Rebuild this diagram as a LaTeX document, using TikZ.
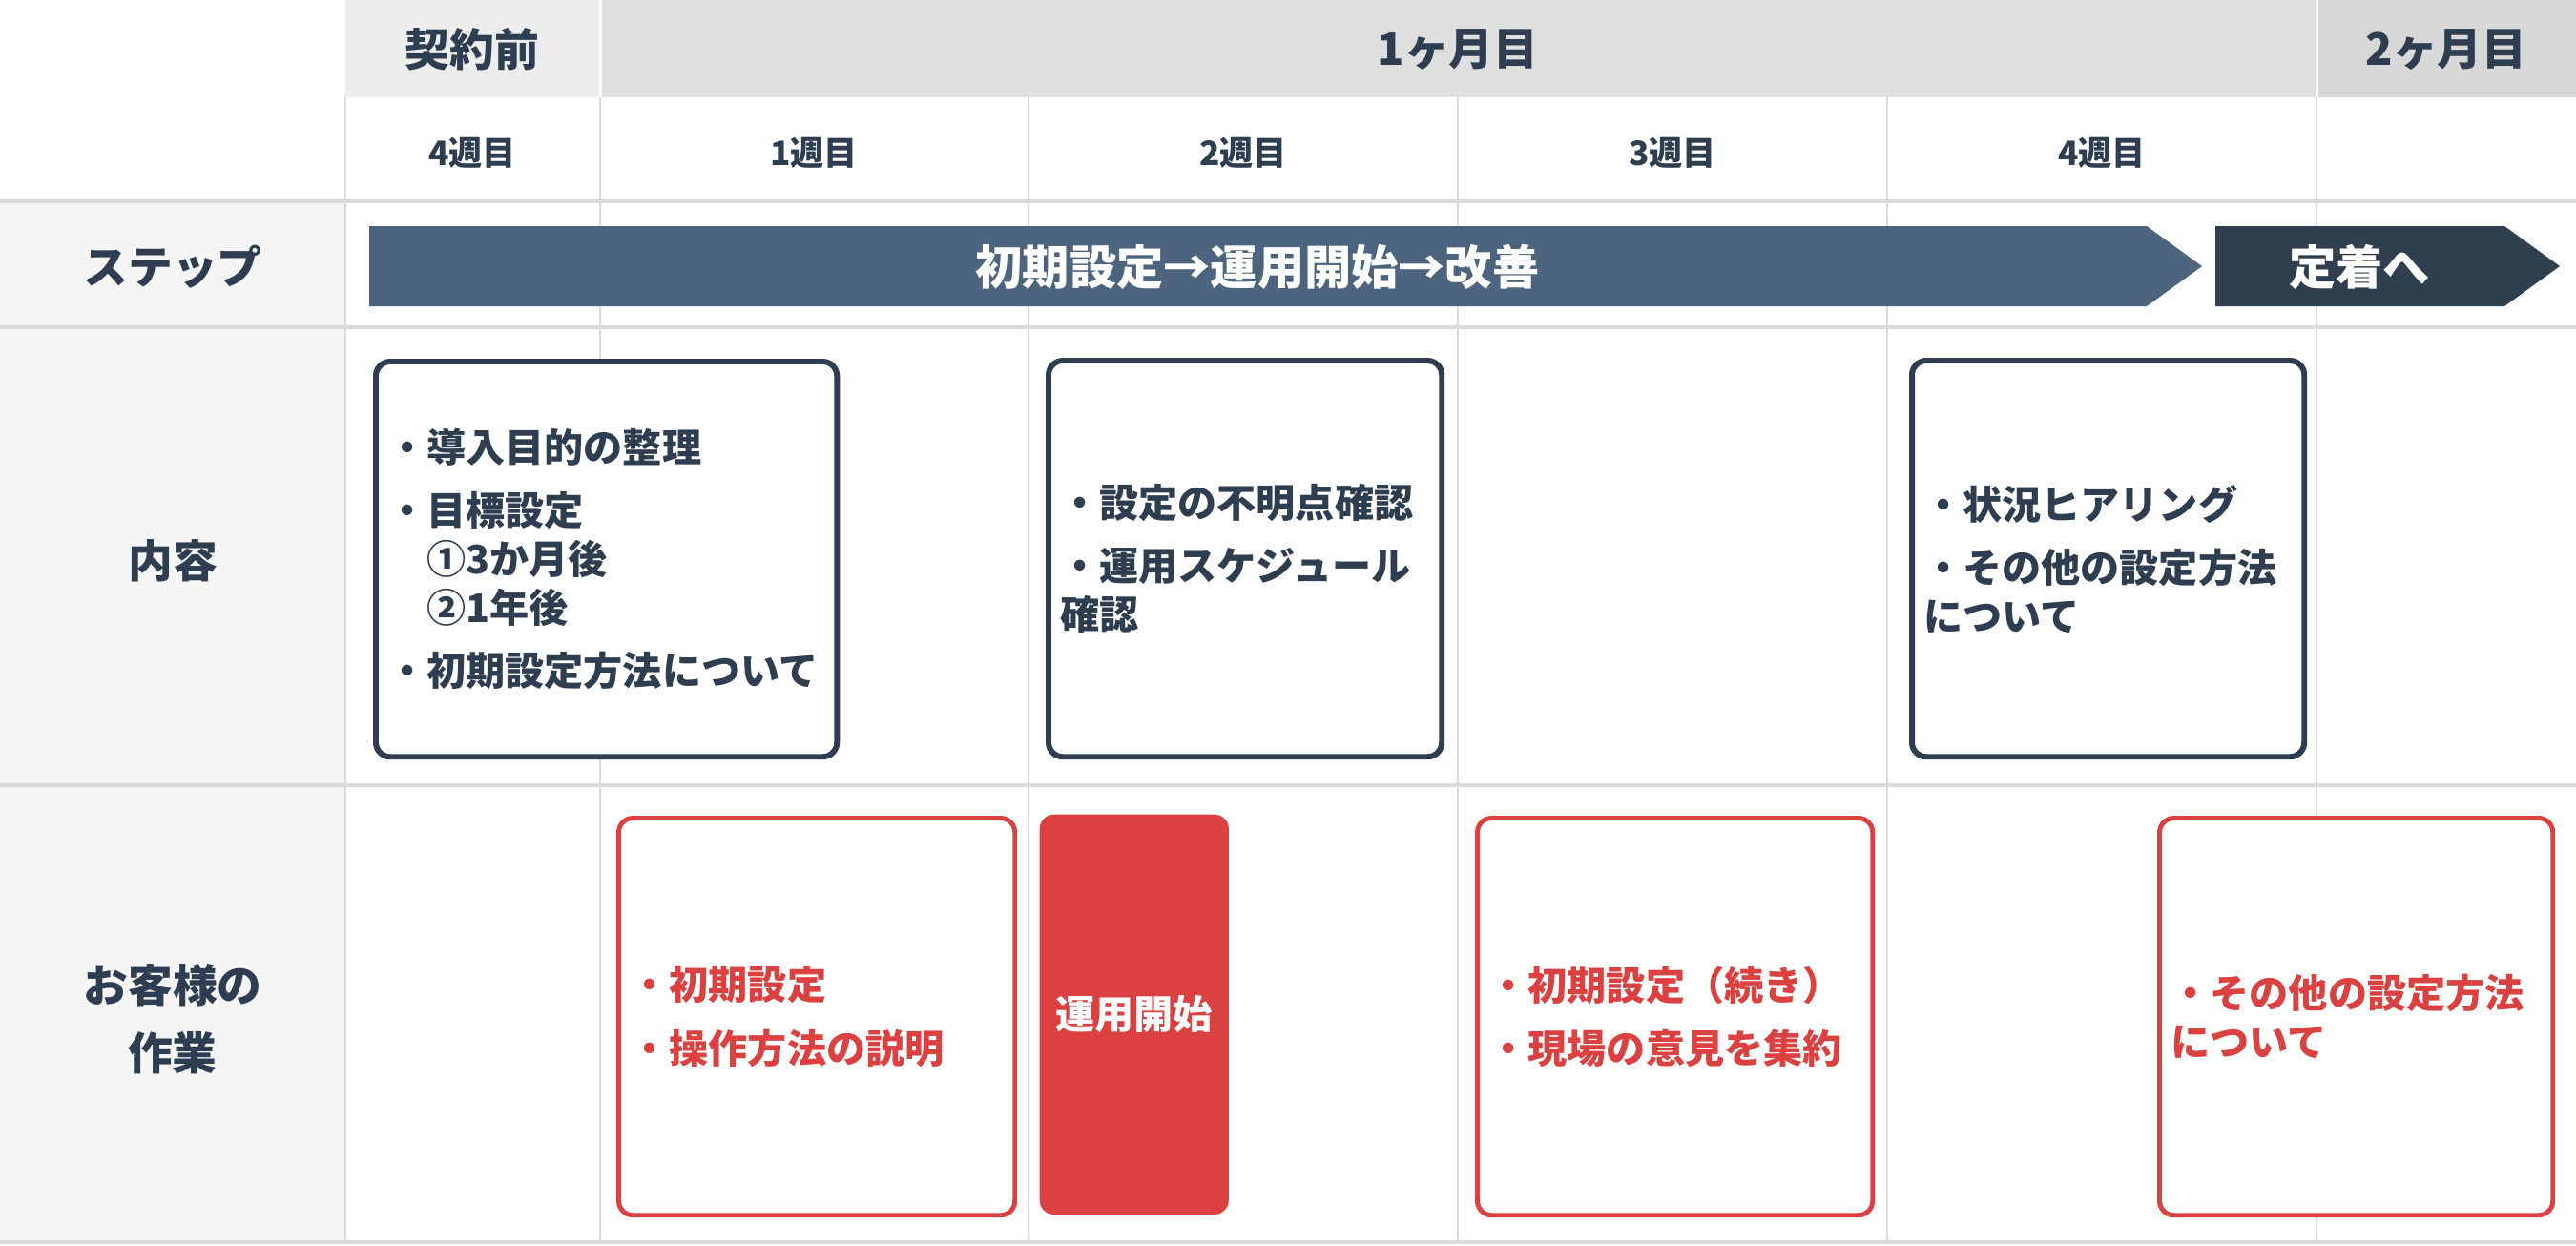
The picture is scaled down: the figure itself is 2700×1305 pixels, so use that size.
\documentclass[tikz,border=0pt]{standalone}
\usepackage{fontspec}
\setmainfont{Noto Sans CJK JP}
\usepackage{tikz}
\definecolor{navy}{HTML}{2E3E50}
\definecolor{stepblue}{HTML}{4D647E}
\definecolor{stepdark}{HTML}{2F3F4F}
\definecolor{accentred}{HTML}{DC4141}
\definecolor{gridgray}{HTML}{DADADA}
\definecolor{hdrlight}{HTML}{EDEDED}
\definecolor{hdrmid}{HTML}{E0DFE0}
\definecolor{hdrdark}{HTML}{D8D8D8}
\definecolor{labelbg}{HTML}{F5F5F5}

\begin{document}
\begin{tikzpicture}[x=0.01cm,y=-0.01cm,
	hdr/.style={text=navy,font=\fontsize{13.3}{20}\selectfont\bfseries,align=center},
	week/.style={text=navy,font=\fontsize{10}{12}\selectfont\bfseries},
	gridline/.style={gridgray,line width=0.6pt},
	sepline/.style={gridgray,line width=1.1pt},
	navybox/.style={draw=navy,line width=1.7pt,rounded corners=0.15cm,fill=white,anchor=north west,
		inner xsep=0.12cm,inner ysep=0pt,align=left,text=navy,font=\fontsize{11.7}{14.5}\selectfont\bfseries},
	redbox/.style={navybox,draw=accentred,line width=1.4pt,text=accentred}]
			\useasboundingbox (0,0) rectangle (2700,1305);
			\fill [white] (0,0) rectangle (2700,1305);
			% header cells
			\fill [hdrlight] (362,0) rectangle (628,102);
			\fill [hdrmid] (631,0) rectangle (2427,102);
			\fill [hdrdark] (2430,0) rectangle (2700,102);
			\fill [labelbg] (0,211) rectangle (362,1302);
			\foreach \x in {362,629,1078,1528,1978,2428}
				\draw [gridline] (\x,102) -- (\x,1302);
			\foreach \y in {211,343,823,1302}
				\draw [sepline] (0,\y) -- (2700,\y);
			\node [hdr] (pre) at (495,52) {契約前};
			\node [hdr] (month1) at (1528,52) {1ヶ月目};
			\node [hdr] (month2) at (2564,52) {2ヶ月目};
			\node [week] (w0) at (495,160) {4週目};
			\node [week] (w1) at (853,160) {1週目};
			\node [week] (w2) at (1303,160) {2週目};
			\node [week] (w3) at (1753,160) {3週目};
			\node [week] (w4) at (2203,160) {4週目};
			\node [hdr] (lstep) at (181,280) {ステップ};
			\node [hdr] (lcontent) at (181,588) {内容};
			\node [hdr] (lwork) at (181,1068) {お客様の\\作業};
			% step arrows
			\fill [stepblue] (387,237) -- (2250,237) -- (2308,279) -- (2250,321) -- (387,321) -- cycle;
			\node [text=white,font=\fontsize{14}{16}\selectfont\bfseries] (flow) at (1318,280) {初期設定→運用開始→改善};
			\fill [stepdark] (2322,237) -- (2625,237) -- (2683,279) -- (2625,321) -- (2322,321) -- cycle;
			\node [text=white,font=\fontsize{14}{16}\selectfont\bfseries] (settle) at (2473,280) {定着へ};
			% content row
			\node [navybox,text width=4.59cm,minimum height=4.14cm] (purpose) at (391,376)
				{・導入目的の整理\\[4.3pt]・目標設定\\　①3か月後\\　②1年後\\[4.3pt]・初期設定方法について};
			\node [navybox,text width=3.88cm,minimum height=4.15cm] (check) at (1096,375)
				{・設定の不明点確認\\[4.3pt]・運用スケジュール\\確認};
			\node [navybox,text width=3.87cm,minimum height=4.15cm] (hearing) at (2001,375)
				{・状況ヒアリング\\[4.3pt]・その他の設定方法\\について};
			% customer row
			\node [redbox,text width=3.91cm,minimum height=4.16cm] (setup) at (646,855)
				{・初期設定\\[4.3pt]・操作方法の説明};
			\node [fill=accentred,rounded corners=0.15cm,anchor=north west,minimum width=1.98cm,minimum height=4.19cm,
				text=white,font=\fontsize{11.7}{14.5}\selectfont\bfseries] (launch) at (1089,853) {運用開始};
			\node [redbox,text width=3.90cm,minimum height=4.16cm] (setup2) at (1546,855)
				{・初期設定（続き）\\[4.3pt]・現場の意見を集約};
			\node [redbox,text width=3.88cm,minimum height=4.16cm] (other) at (2261,855)
				{・その他の設定方法\\について};
		\end{tikzpicture}
\end{document}
